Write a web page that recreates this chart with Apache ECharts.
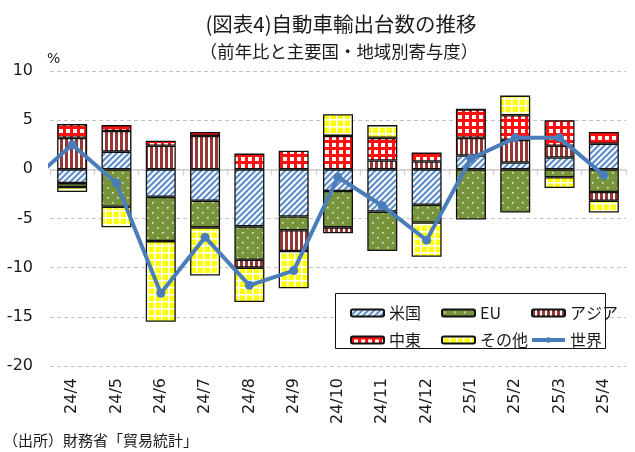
<!DOCTYPE html>
<html>
<head>
<meta charset="utf-8">
<script src="https://cdn.jsdelivr.net/npm/echarts@6/dist/echarts.min.js"></script>
<style>
html,body{margin:0;padding:0;background:#fff;}
#c{width:635px;height:452px;}
</style>
</head>
<body>
<div id="c"></div>
<script>
// ---- data (index 0 is the month before the visible range; only the world line has a value there)
const categories = ['24/3','24/4','24/5','24/6','24/7','24/8','24/9','24/10','24/11','24/12','25/1','25/2','25/3','25/4'];
const us    = [null, -1.4,  1.8, -2.8, -3.2, -5.8, -4.8, -2.2, -4.3, -3.6,  1.4,  0.7,  1.2,  2.6];
const eu    = [null, -0.4, -3.8, -4.5, -2.7, -3.4, -1.4, -3.7, -4.0, -1.8, -5.1, -4.4, -0.8, -2.3];
const asia  = [null,  3.2,  2.1,  2.4,  3.4, -0.8, -2.1, -0.6,  0.9,  0.8,  1.8,  2.3,  1.2, -0.9];
const mideast=[null,  1.4,  0.6,  0.5,  0.4,  1.6,  1.9,  3.4,  2.3,  0.9,  2.9,  2.5,  2.6,  1.2];
const other = [null, -0.5, -2.1, -8.2, -4.9, -3.5, -3.8,  2.2,  1.3, -3.5,  0.0,  2.0, -1.1, -1.2];
const world = [-1.5,  2.5, -1.4,-12.6, -6.9,-11.8,-10.3, -0.8, -3.7, -7.2,  1.1,  3.2,  3.2, -0.6];
const yTicks = {min: -20, max: 10, step: 5};
const names = ['米国','EU','アジア','中東','その他','世界'];

// ---- patterns
function mkPattern(w, h, draw) {
  const c = document.createElement('canvas');
  c.width = w; c.height = h;
  const ctx = c.getContext('2d');
  draw(ctx, w, h);
  return {image: c, repeat: 'repeat'};
}
const pUS = mkPattern(6, 6, (ctx) => {
  ctx.fillStyle = '#fff'; ctx.fillRect(0,0,6,6);
  ctx.strokeStyle = '#5F8FCB'; ctx.lineWidth = 2.2;
  ctx.beginPath();
  ctx.moveTo(-3,3); ctx.lineTo(3,-3);
  ctx.moveTo(0,6); ctx.lineTo(6,0);
  ctx.moveTo(3,9); ctx.lineTo(9,3);
  ctx.stroke();
});
const pEU = mkPattern(10, 10, (ctx) => {
  ctx.fillStyle = '#77933C'; ctx.fillRect(0,0,10,10);
  ctx.fillStyle = '#E4EBD2';
  ctx.fillRect(2,2,1.6,1.6); ctx.fillRect(7,7,1.6,1.6);
});
const pAsia = mkPattern(5, 2, (ctx) => {
  ctx.fillStyle = '#fff'; ctx.fillRect(0,0,5,2);
  ctx.fillStyle = '#953735'; ctx.fillRect(0,0,3,2);
});
const pME = mkPattern(7, 7, (ctx) => {
  ctx.fillStyle = '#FF1010'; ctx.fillRect(0,0,7,7);
  ctx.fillStyle = '#fff'; ctx.fillRect(3,3,4,4);
});
const pOther = mkPattern(7, 7, (ctx) => {
  ctx.fillStyle = '#FFFF00'; ctx.fillRect(0,0,7,7);
  ctx.fillStyle = '#fff'; ctx.fillRect(0,0,7,1.6); ctx.fillRect(0,0,1.6,7);
});

const chart = echarts.init(document.getElementById('c'));
const txt = '#1a1a1a';
const jp = '"Noto Sans CJK JP", sans-serif';
const num = '"DejaVu Sans", sans-serif';
const lineColor = '#4A7EBB';

function barSeries(name, data, pat) {
  return {
    name, type: 'bar', stack: 'total', data,
    barWidth: 30,
    itemStyle: {color: pat, borderColor: '#111', borderWidth: 1.3},
    emphasis: {disabled: true}
  };
}

const legendCommon = {
  orient: 'vertical', itemWidth: 33, itemHeight: 7, itemGap: 9, z: 10,
  textStyle: {fontSize: 16, lineHeight: 18, color: txt, fontFamily: jp},
  selectedMode: false
};

chart.setOption({
  animation: false,
  backgroundColor: '#fff',
  grid: {left: 50, right: 9, top: 71, bottom: 86},
  xAxis: [{
    type: 'category', data: categories, min: 1, max: categories.length - 1,
    position: 'bottom',
    axisLine: {show: false, onZero: false}, axisTick: {show: false},
    axisLabel: {rotate: 90, interval: 0, fontSize: 16, margin: 12, color: txt, fontFamily: num},
    splitLine: {show: false}
  }, {
    type: 'category', data: categories, min: 1, max: categories.length - 1,
    position: 'top',
    axisLine: {show: true, onZero: true, lineStyle: {color: '#D0D0D0', width: 1.5}},
    axisTick: {show: true, inside: true, length: 6, lineStyle: {color: '#D0D0D0', width: 1.2}},
    axisLabel: {show: false}, splitLine: {show: false}
  }],
  yAxis: {
    type: 'value', min: yTicks.min, max: yTicks.max, interval: yTicks.step,
    axisLine: {show: false}, axisTick: {show: false},
    axisLabel: {fontSize: 16, margin: 17, color: txt, fontFamily: num},
    splitLine: {show: true, lineStyle: {color: '#C4C4C4', type: [4, 3], width: 1}}
  },
  legend: [
    Object.assign({data: ['米国','中東'], left: 345, top: 299}, legendCommon),
    Object.assign({data: ['EU','その他'], left: 436, top: 299}, legendCommon),
    Object.assign({data: ['アジア', {name: '世界', lineStyle: {width: 4, color: lineColor}, itemStyle: {color: lineColor}}], left: 525, top: 299}, legendCommon)
  ],
  graphic: [
    {type: 'rect', z: 5, shape: {x: 335.5, y: 293.5, width: 270, height: 55},
     style: {fill: '#fff', stroke: '#111', lineWidth: 1}},
    {type: 'text', x: 341, y: 24, z: 5,
     style: {text: '(図表4)自動車輸出台数の推移', fontSize: 20.5, fontFamily: jp, fill: txt, align: 'center', verticalAlign: 'middle'}},
    {type: 'text', x: 339, y: 51, z: 5,
     style: {text: '（前年比と主要国・地域別寄与度）', fontSize: 17.4, fontFamily: jp, fill: txt, align: 'center', verticalAlign: 'middle'}},
    {type: 'text', x: 47, y: 59, z: 5,
     style: {text: '%', fontSize: 14, fontFamily: num, fill: txt, align: 'left', verticalAlign: 'middle'}},
    {type: 'text', x: 3, y: 440, z: 5,
     style: {text: '（出所）財務省「貿易統計」', fontSize: 15, fontFamily: jp, fill: txt, align: 'left', verticalAlign: 'middle'}}
  ],
  series: [
    barSeries(names[0], us, pUS),
    barSeries(names[1], eu, pEU),
    barSeries(names[2], asia, pAsia),
    barSeries(names[3], mideast, pME),
    barSeries(names[4], other, pOther),
    {
      name: names[5], type: 'line', data: world, z: 10,
      symbol: 'circle', symbolSize: 9, clip: true,
      lineStyle: {color: lineColor, width: 4},
      itemStyle: {color: lineColor},
      emphasis: {disabled: true}
    }
  ]
});
</script>
</body>
</html>
